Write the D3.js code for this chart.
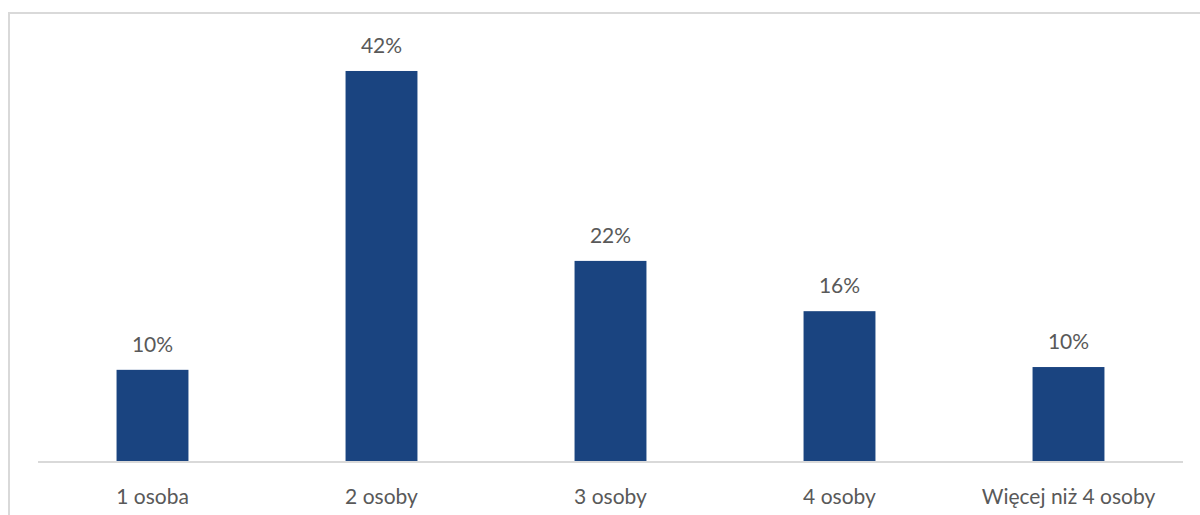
<!DOCTYPE html>
<html>
<head>
<meta charset="utf-8">
<script src="https://cdn.jsdelivr.net/npm/d3@7"></script>
<style>
html,body{margin:0;padding:0;background:#fff;}
svg{display:block;}
</style>
</head>
<body>
<svg id="chart" width="1200" height="515"></svg>
<script>
const categories = ["1 osoba", "2 osoby", "3 osoby", "4 osoby", "Więcej niż 4 osoby"];
const values = [9.9, 42.0, 21.6, 16.2, 10.2];
const valueLabels = ["10%", "42%", "22%", "16%", "10%"];

const svg = d3.select("#chart");
const plot = {left: 38, right: 1183, top: 13, bottom: 462};
const font = "Lato, 'Open Sans', sans-serif";
const textColor = "#595959";

// chart border (extends beyond the visible frame on right and bottom)
svg.append("rect")
  .attr("x", 9).attr("y", 13)
  .attr("width", 1300).attr("height", 600)
  .attr("fill", "none").attr("stroke", "#d9d9d9").attr("stroke-width", 2);

const x = d3.scaleBand()
  .domain(categories)
  .range([plot.left, plot.right])
  .paddingInner(0.686)
  .paddingOuter(0.343);

const y = d3.scaleLinear()
  .domain([0, 45])
  .range([plot.bottom, plot.bottom - 45 * 9.31]);

const data = categories.map((c, i) => ({c, v: values[i], label: valueLabels[i]}));

svg.append("g").selectAll("rect")
  .data(data).join("rect")
  .attr("x", d => x(d.c))
  .attr("y", d => y(d.v))
  .attr("width", x.bandwidth())
  .attr("height", d => y(0) - y(d.v))
  .attr("fill", "#1a4480");

// baseline axis
const axis = d3.axisBottom(x).tickSize(0).tickPadding(0);
const gx = svg.append("g").attr("transform", `translate(0,${plot.bottom})`).call(axis);
gx.select(".domain").attr("stroke", "#d9d9d9").attr("stroke-width", 2)
  .attr("d", `M${plot.left},0H${plot.right}`);
gx.selectAll(".tick text")
  .attr("dy", null)
  .attr("y", 42)
  .attr("font-family", font)
  .attr("font-size", 21)
  .attr("fill", textColor);

// value labels
svg.append("g").selectAll("text")
  .data(data).join("text")
  .attr("x", d => x(d.c) + x.bandwidth() / 2)
  .attr("y", d => y(d.v) - 18)
  .attr("text-anchor", "middle")
  .attr("font-family", font)
  .attr("font-size", 21)
  .attr("fill", textColor)
  .text(d => d.label);
</script>
</body>
</html>
